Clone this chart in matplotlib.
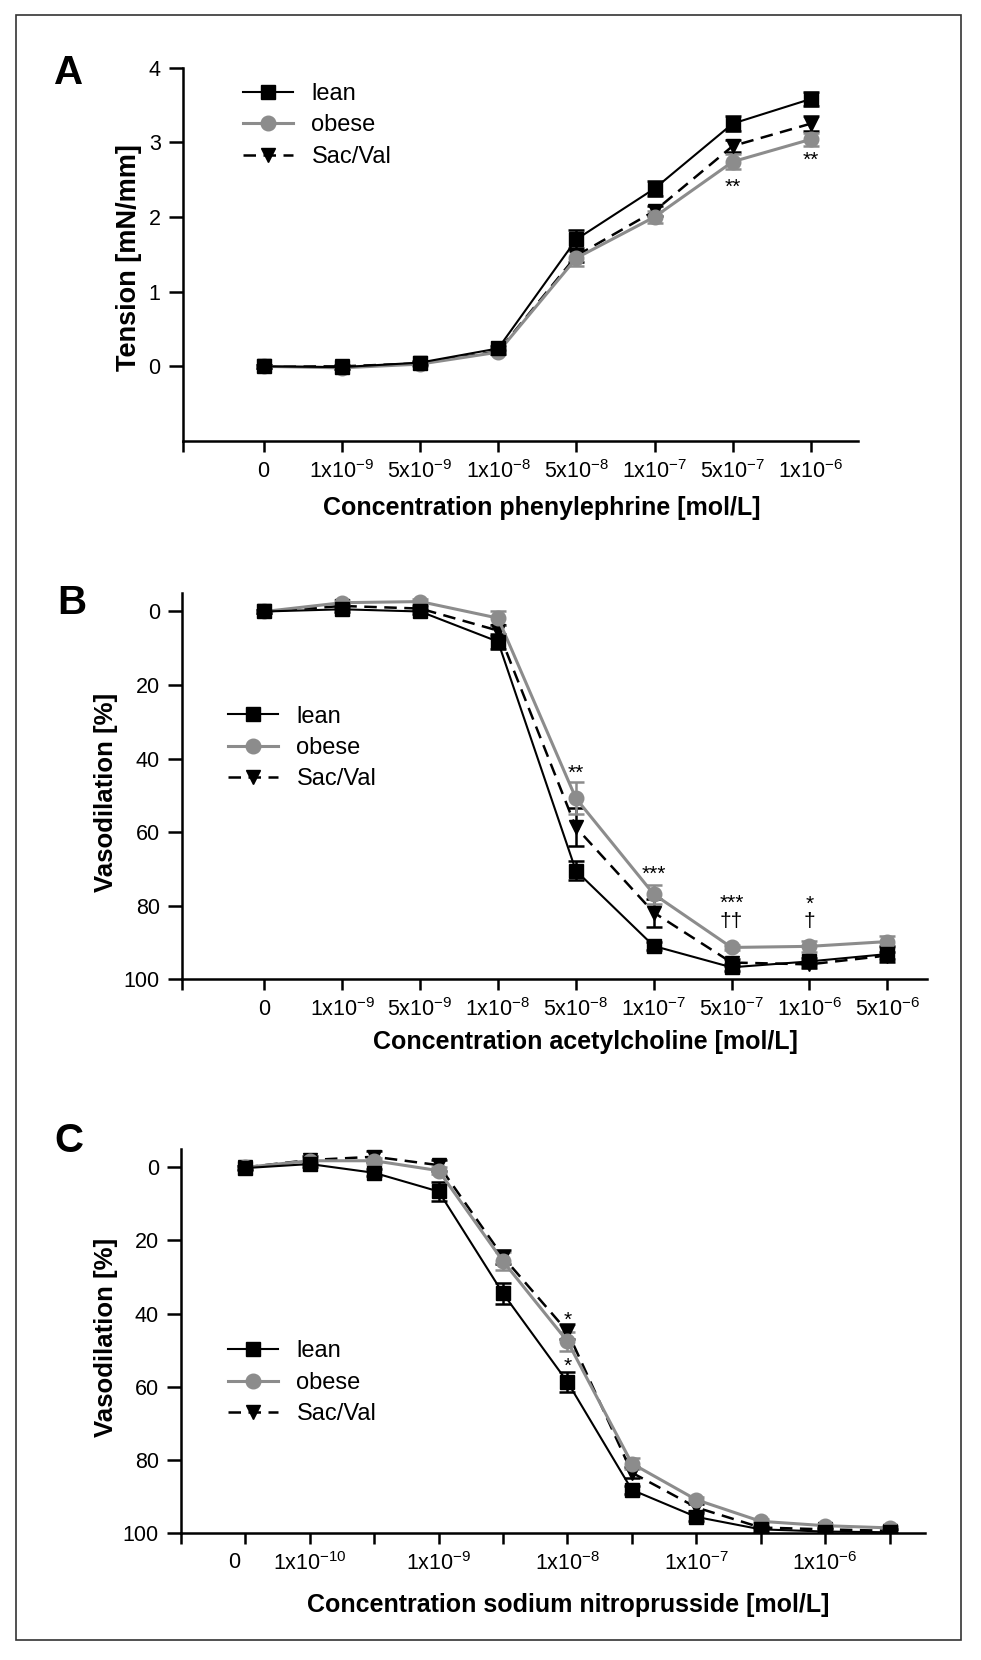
import matplotlib
matplotlib.use('Agg')
import matplotlib.pyplot as plt
import matplotlib.patches as patches
from matplotlib.transforms import ScaledTranslation

plt.rcParams['font.family'] = ['Liberation Sans', 'DejaVu Sans']
plt.rcParams['mathtext.fontset'] = 'custom'
plt.rcParams['mathtext.rm'] = 'Liberation Sans'
plt.rcParams['mathtext.default'] = 'regular'

GRAY = '#8c8c8c'

# ---- panel A: phenylephrine ----
a_labels = ['0', '1x10$^{-9}$', '5x10$^{-9}$', '1x10$^{-8}$', '5x10$^{-8}$',
            '1x10$^{-7}$', '5x10$^{-7}$', '1x10$^{-6}$']
a_lean = [0.0, -0.01, 0.05, 0.24, 1.70, 2.38, 3.25, 3.58]
a_lean_err = [0.02, 0.02, 0.02, 0.03, 0.12, 0.10, 0.10, 0.09]
a_obese = [0.0, -0.02, 0.03, 0.19, 1.45, 2.00, 2.74, 3.04]
a_obese_err = [0.02, 0.02, 0.02, 0.03, 0.10, 0.08, 0.10, 0.09]
a_sacval = [0.0, 0.0, 0.04, 0.20, 1.48, 2.08, 2.95, 3.25]
a_sacval_err = [0.02, 0.02, 0.02, 0.03, 0.08, 0.07, 0.08, 0.10]
a_marks = [(6, 2.40, '**'), (7, 2.76, '**')]

# ---- panel B: acetylcholine ----
b_labels = ['0', '1x10$^{-9}$', '5x10$^{-9}$', '1x10$^{-8}$', '5x10$^{-8}$',
            '1x10$^{-7}$', '5x10$^{-7}$', '1x10$^{-6}$', '5x10$^{-6}$']
b_lean = [0.0, -0.6, 0.0, 8.2, 70.5, 91.0, 96.8, 95.2, 93.2]
b_lean_err = [0.5, 0.8, 0.8, 2.0, 2.5, 1.0, 1.0, 1.0, 2.2]
b_obese = [0.0, -2.4, -2.7, 1.8, 50.8, 76.9, 91.4, 91.1, 89.8]
b_obese_err = [0.5, 0.8, 0.8, 2.0, 4.3, 2.6, 0.7, 1.5, 1.6]
b_sacval = [0.0, -1.5, -0.8, 5.2, 58.7, 81.9, 95.5, 96.0, 93.6]
b_sacval_err = [0.5, 0.8, 0.8, 1.5, 5.2, 3.8, 1.0, 1.0, 1.0]
b_marks = [(4, 44.0, '**'), (5, 71.5, '***'), (6, 79.5, '***'), (6, 84.3, '††'),
           (7, 79.7, '*'), (7, 84.3, '†')]

# ---- panel C: sodium nitroprusside ----
c_labels = ['0', '1x10$^{-10}$', '', '1x10$^{-9}$', '', '1x10$^{-8}$', '',
            '1x10$^{-7}$', '', '1x10$^{-6}$', '']
c_lean = [0.2, -0.9, 1.5, 6.6, 34.5, 58.7, 88.2, 95.6, 99.0, 99.6, 99.8]
c_lean_err = [0.5, 0.8, 1.0, 2.5, 3.0, 2.8, 1.0, 1.0, 0.6, 1.0, 1.0]
c_obese = [0.0, -1.8, -1.8, 0.9, 25.7, 47.6, 81.0, 90.9, 96.8, 98.0, 98.6]
c_obese_err = [0.5, 0.8, 0.8, 1.0, 2.5, 2.5, 1.5, 0.7, 0.5, 0.5, 0.5]
c_sacval = [0.0, -2.0, -2.9, -0.6, 24.5, 44.9, 83.5, 93.0, 98.5, 99.0, 99.4]
c_sacval_err = [0.5, 1.0, 1.5, 1.5, 2.0, 2.0, 1.5, 1.0, 0.5, 0.5, 0.5]
c_marks = [(5, 41.8, '*'), (5, 54.5, '*')]

fig = plt.figure(figsize=(9.81, 16.6), dpi=100)


def draw_panel(ax, labels, lean, lean_err, obese, obese_err, sacval, sacval_err, marks):
    x = list(range(len(labels)))
    # error bars first, then lines/markers
    for y, e, c in [(sacval, sacval_err, 'black'), (obese, obese_err, GRAY), (lean, lean_err, 'black')]:
        ax.errorbar(x, y, yerr=e, fmt='none', ecolor=c, elinewidth=1.8,
                    capsize=6, capthick=1.8, zorder=2)
    h_sac, = ax.plot(x, sacval, color='black', lw=1.8, ls='--', dashes=(5, 3),
                     marker='v', ms=10, zorder=3, label='Sac/Val')
    h_ob, = ax.plot(x, obese, color=GRAY, lw=2.2, marker='o', ms=10.5,
                    zorder=4, label='obese')
    h_lean, = ax.plot(x, lean, color='black', lw=1.5, marker='s', ms=10,
                      zorder=5, label='lean')
    for xi, yi, s in marks:
        ax.text(xi, yi, s, ha='center', va='center', fontsize=15)
    for side in ['top', 'right']:
        ax.spines[side].set_visible(False)
    for side in ['left', 'bottom']:
        ax.spines[side].set_linewidth(1.8)
    ax.tick_params(axis='both', direction='out', width=1.8, labelsize=15.5)
    ax.tick_params(axis='y', length=10, pad=6)
    ax.tick_params(axis='x', length=8, pad=6)
    return [h_lean, h_ob, h_sac]


def finish_x(ax, labels, left, right):
    ax.set_xlim(left, right)
    ax.set_xticks([left] + list(range(len(labels))))
    ax.set_xticklabels([''] + labels)


def add_legend(ax, handles, x, y):
    ax.legend(handles=handles, loc='upper left', bbox_to_anchor=(x, y),
              bbox_transform=fig.transFigure, frameon=False, fontsize=17,
              handlelength=2.1, handletextpad=0.8, labelspacing=0.4,
              borderpad=0, borderaxespad=0)


# Panel A
axA = fig.add_axes([0.1865, 0.7343, 0.688, 0.225])
hA = draw_panel(axA, a_labels, a_lean, a_lean_err, a_obese, a_obese_err,
                a_sacval, a_sacval_err, a_marks)
finish_x(axA, a_labels, -1.03, 7.6)
axA.set_ylim(-1, 4)
axA.set_yticks([0, 1, 2, 3, 4])
axA.set_ylabel('Tension [mN/mm]', fontsize=19.5, fontweight='bold')
axA.set_xlabel('Concentration phenylephrine [mol/L]', fontsize=18, fontweight='bold')
axA.xaxis.set_label_coords(0.531, -0.179)
axA.xaxis.label.set_va('center')
axA.yaxis.set_label_coords(-0.08, 0.49)
axA.yaxis.label.set_va('center')
add_legend(axA, hA, 0.2477, 0.950)

# Panel B
axB = fig.add_axes([0.1855, 0.4102, 0.7594, 0.2325])
hB = draw_panel(axB, b_labels, b_lean, b_lean_err, b_obese, b_obese_err,
                b_sacval, b_sacval_err, b_marks)
finish_x(axB, b_labels, -1.06, 8.51)
axB.set_ylim(100, -5)
axB.set_yticks([0, 20, 40, 60, 80, 100])
axB.set_ylabel('Vasodilation [%]', fontsize=18.5, fontweight='bold')
axB.set_xlabel('Concentration acetylcholine [mol/L]', fontsize=18, fontweight='bold')
axB.xaxis.set_label_coords(0.542, -0.163)
axB.xaxis.label.set_va('center')
axB.yaxis.set_label_coords(-0.102, 0.485)
axB.yaxis.label.set_va('center')
add_legend(axB, hB, 0.2324, 0.5750)

# Panel C
axC = fig.add_axes([0.1845, 0.0765, 0.7584, 0.2313])
hC = draw_panel(axC, c_labels, c_lean, c_lean_err, c_obese, c_obese_err,
                c_sacval, c_sacval_err, c_marks)
finish_x(axC, c_labels, -1.0, 10.55)
axC.set_ylim(100, -5)
axC.set_yticks([0, 20, 40, 60, 80, 100])
axC.set_ylabel('Vasodilation [%]', fontsize=18.5, fontweight='bold')
axC.set_xlabel('Concentration sodium nitroprusside [mol/L]', fontsize=18, fontweight='bold')
axC.xaxis.set_label_coords(0.52, -0.1875)
axC.xaxis.label.set_va('center')
axC.yaxis.set_label_coords(-0.101, 0.51)
axC.yaxis.label.set_va('center')
add_legend(axC, hC, 0.2324, 0.1925)
# the "0" label sits a little left of its tick in the original
for lab in axC.get_xticklabels():
    if lab.get_text() == '0':
        lab.set_transform(lab.get_transform() + ScaledTranslation(-0.11, 0, fig.dpi_scale_trans))

# panel letters
for letter, (px, py) in zip('ABC', [(69, 73), (72, 603), (69, 1141)]):
    fig.text(px / 981, 1 - py / 1660, letter, fontsize=29, fontweight='bold',
             ha='center', va='center')

# outer frame
fig.patches.append(patches.Rectangle((16 / 981, 1 - 1640 / 1660), 945 / 981, 1625 / 1660,
                                     transform=fig.transFigure, fill=False,
                                     edgecolor='#333333', lw=1.2))

fig.savefig('out.png', dpi=100)
